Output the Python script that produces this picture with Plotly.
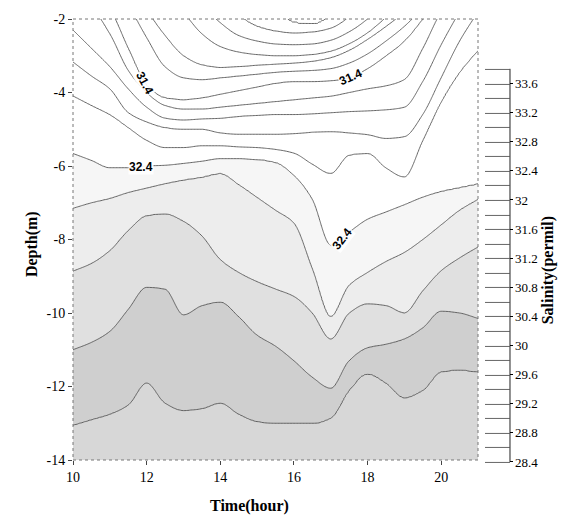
import numpy as np
import plotly.graph_objects as go

# ---------------- data ----------------
# sample times (hour)
times = [10, 10.5, 11, 11.5, 12, 12.5, 13, 13.5, 14, 14.5, 15, 15.5, 16,
         16.5, 17, 17.5, 18, 18.5, 19, 19.5, 20, 20.5, 21]

# salinity levels (permil) and the depth (m) of each isohaline at each time
# (values above -2 lie above the plotted window)
levels = [30.0, 30.2, 30.4, 30.6, 30.8, 31.0, 31.2, 31.4, 31.6, 31.8,
          32.0, 32.2, 32.4, 32.6, 32.8, 33.0, 33.2, 33.4]

d300 = [6] * 23
d302 = [4, 4, 4, 4, 4, 4, 3, 2.5, 1.5, 0.5, -0.8, -1.6, -2.1, -2.15, -1.9, -1.2, -0.5, 0.5, 1.5, 2.5, 3, 3.5, 4]
d304 = [3.5, 3.2, 2.8, 2.2, 1.5, 0.8, 0, -0.7, -1.4, -1.9, -2.2, -2.33, -2.38, -2.35, -2.25, -1.95, -1.5, -0.9, -0.3, 0.3, 1.0, 1.6, 2.2]
d306 = [3.0, 2.6, 2.1, 1.4, 0.6, -0.2, -0.9, -1.6, -2.1, -2.45, -2.6, -2.68, -2.7, -2.68, -2.58, -2.35, -2.0, -1.5, -0.9, -0.3, 0.4, 1.0, 1.6]
d308 = [2.4, 1.9, 1.3, 0.5, -0.3, -1.1, -1.8, -2.4, -2.75, -2.9, -2.97, -3.0, -3.0, -2.97, -2.88, -2.68, -2.38, -1.95, -1.4, -0.8, -0.1, 0.5, 1.0]
d310 = [1.0, 0.6, 0.0, -0.9, -1.75, -2.45, -3.0, -3.25, -3.32, -3.3, -3.26, -3.23, -3.2, -3.15, -3.05, -2.85, -2.55, -2.2, -1.8, -1.2, -0.6, 0.0, 0.5]
d312 = [0.5, 0.0, -0.8, -1.6, -2.5, -3.3, -3.6, -3.65, -3.6, -3.55, -3.5, -3.45, -3.42, -3.4, -3.35, -3.2, -2.95, -2.6, -2.2, -1.7, -1.1, -0.5, 0.1]
d314 = [-0.8, -1.3, -1.75, -2.8, -3.8, -4.15, -4.2, -4.15, -4.05, -3.95, -3.85, -3.75, -3.7, -3.7, -3.68, -3.6, -3.35, -3.0, -2.6, -2.0, -1.4, -0.8, -0.3]
d316 = [-1.5, -1.7, -2.4, -3.4, -4.0, -4.35, -4.45, -4.45, -4.4, -4.35, -4.3, -4.25, -4.2, -4.15, -4.1, -4.0, -3.9, -3.82, -3.65, -2.8, -1.8, -1.2, -0.6]
d318 = [-2.3, -2.8, -3.3, -3.9, -4.4, -4.7, -4.75, -4.72, -4.7, -4.65, -4.62, -4.6, -4.6, -4.58, -4.55, -4.52, -4.5, -4.47, -4.4, -3.7, -2.7, -1.8, -1.0]
d320 = [-3.17, -3.55, -3.9, -4.55, -4.8, -4.95, -5.0, -5.0, -5.1, -5.14, -5.14, -5.14, -5.12, -5.08, -5.06, -5.1, -5.15, -5.25, -5.2, -4.6, -3.6, -2.6, -1.8]
d322 = [-4.09, -4.35, -4.6, -4.95, -5.3, -5.5, -5.5, -5.45, -5.45, -5.48, -5.5, -5.55, -5.65, -5.95, -6.2, -5.7, -5.65, -6.05, -6.3, -5.3, -4.25, -3.45, -2.85]
d324 = [-5.66, -5.85, -6.05, -6.05, -6.0, -5.98, -5.93, -5.87, -5.8, -5.8, -5.82, -5.9, -6.25, -6.9, -8.15, -7.8, -7.45, -7.25, -7.05, -6.85, -6.7, -6.6, -6.5]
d326 = [-7.15, -7.0, -6.88, -6.72, -6.6, -6.48, -6.38, -6.3, -6.2, -6.5, -6.85, -7.2, -7.55, -8.8, -10.1, -9.25, -8.9, -8.6, -8.35, -8.0, -7.6, -7.2, -6.9]
d328 = [-8.86, -8.65, -8.3, -7.75, -7.35, -7.3, -7.5, -7.9, -8.55, -8.9, -9.15, -9.35, -9.55, -10.0, -10.7, -10.0, -9.75, -9.8, -10.0, -9.4, -8.85, -8.5, -8.2]
d330 = [-11.0, -10.8, -10.5, -9.9, -9.3, -9.35, -10.05, -9.8, -9.7, -10.1, -10.6, -10.9, -11.3, -11.75, -12.05, -11.3, -10.95, -10.85, -10.7, -10.4, -9.95, -10.0, -10.15]
d332 = [-13.05, -12.9, -12.75, -12.5, -11.9, -12.45, -12.65, -12.6, -12.45, -12.75, -12.95, -13.0, -13.0, -13.0, -12.85, -12.1, -11.65, -11.9, -12.3, -12.1, -11.6, -11.55, -11.6]
d334 = [-18] * 23

depth_rows = [d300, d302, d304, d306, d308, d310, d312, d314, d316, d318,
              d320, d322, d324, d326, d328, d330, d332, d334]

x_ticks = [10, 12, 14, 16, 18, 20]
y_ticks = [-14, -12, -10, -8, -6, -4, -2]
y_ticktext = ["-14", "-12", "-10", "-8", "-6", "-4", "-2"]
cb_ticks = [28.4, 28.8, 29.2, 29.6, 30.0, 30.4, 30.8, 31.2, 31.6, 32.0,
            32.4, 32.8, 33.2, 33.6]
cb_ticktext = ["28.4", "28.8", "29.2", "29.6", "30", "30.4", "30.8", "31.2",
               "31.6", "32", "32.4", "32.8", "33.2", "33.6"]

# labelled isohalines: (level, time of label, text angle)
labels = [(31.4, 11.95, 62), (31.4, 17.55, -24), (32.4, 11.85, 0), (32.4, 17.3, -52)]


# ---------------- build the gridded field ----------------
def pchip(xk, yk, xq):
    xk = np.asarray(xk, float)
    yk = np.asarray(yk, float)
    h = np.diff(xk)
    d = np.diff(yk) / h
    n = len(xk)
    m = np.zeros(n)
    m[0], m[-1] = d[0], d[-1]
    for i in range(1, n - 1):
        if d[i - 1] * d[i] <= 0:
            m[i] = 0.0
        else:
            w1 = 2 * h[i] + h[i - 1]
            w2 = h[i] + 2 * h[i - 1]
            m[i] = (w1 + w2) / (w1 / d[i - 1] + w2 / d[i])
    idx = np.clip(np.searchsorted(xk, xq) - 1, 0, n - 2)
    t = (xq - xk[idx]) / h[idx]
    h00 = 2 * t**3 - 3 * t**2 + 1
    h10 = t**3 - 2 * t**2 + t
    h01 = -2 * t**3 + 3 * t**2
    h11 = t**3 - t**2
    return (h00 * yk[idx] + h10 * h[idx] * m[idx] + h01 * yk[idx + 1]
            + h11 * h[idx] * m[idx + 1])


xf = np.linspace(10, 21, 276)
yf = np.linspace(-14, -2, 301)
D = np.array([pchip(times, row, xf) for row in depth_rows])
lev = np.array(levels)
Z = np.empty((len(yf), len(xf)))
for j in range(len(xf)):
    col = D[:, j].copy()
    for k in range(1, len(col)):
        if col[k] > col[k - 1] - 1e-3:
            col[k] = col[k - 1] - 1e-3
    Z[:, j] = np.interp(yf, col[::-1], lev[::-1])

# step grey scale (fills between isohalines)
c_lo, c_hi = 28.3, 33.9
bounds = [32.35, 32.55, 32.75, 32.95, 33.15]
cols = ["#ffffff", "#f6f6f6", "#ededed", "#e0e0e0", "#cfcfcf", "#d7d7d7"]
scale = []
prev = 0.0
for b, c in zip(bounds, cols[:-1]):
    s = (b - c_lo) / (c_hi - c_lo)
    scale.append([prev, c])
    scale.append([s, c])
    prev = s
scale.append([prev, cols[-1]])
scale.append([1.0, cols[-1]])

serif = "Liberation Serif"
cont = dict(start=28.4, end=33.8, size=0.2, showlabels=False)

fig = go.Figure()
# grey fills between isohalines
fig.add_trace(go.Contour(
    x=xf, y=yf, z=Z, autocontour=False,
    contours=dict(cont, coloring="fill"),
    colorscale=scale, showscale=False,
    line=dict(width=0, smoothing=1.0),
    hoverinfo="skip",
))
# isohaline lines (+ ladder-style colour bar)
fig.add_trace(go.Contour(
    x=xf, y=yf, z=Z, autocontour=False,
    contours=dict(cont, coloring="lines"),
    colorscale=[[0, "#555555"], [1, "#555555"]],
    line=dict(width=0.9, smoothing=1.0),
    colorbar=dict(
        x=1.017, xanchor="left", xpad=0,
        y=-0.0045, yanchor="bottom", len=0.8916, lenmode="fraction", ypad=0,
        thickness=25, outlinewidth=0,
        tickmode="array", tickvals=cb_ticks, ticktext=cb_ticktext,
        ticks="outside", ticklen=3, tickcolor="#000",
        tickfont=dict(family=serif, size=13, color="#000"),
    ),
    hoverinfo="skip",
))

annotations = []
for lv, t, ang in labels:
    k = levels.index(lv)
    yv = float(pchip(times, depth_rows[k], np.array([t]))[0])
    annotations.append(dict(
        x=t, y=yv, xref="x", yref="y", text="<b>%.1f</b>" % lv,
        showarrow=False, textangle=ang, bgcolor="rgba(255,255,255,0.9)",
        borderpad=0, font=dict(family="Liberation Sans", size=12, color="#000")))

annotations += [
    dict(x=0.437, y=-0.105, xref="paper", yref="paper", yanchor="middle",
         text="<b>Time(hour)</b>",
         showarrow=False, font=dict(family=serif, size=16, color="#000")),
    dict(x=-0.128, y=0.49, xref="paper", yref="paper", text="<b>Depth(m)</b>",
         showarrow=False, textangle=-90, font=dict(family=serif, size=16, color="#000")),
    dict(x=1.2, y=0.43, xref="paper", yref="paper", text="<b>Salinity(permil)</b>",
         showarrow=False, textangle=-90, font=dict(family=serif, size=16, color="#000")),
]

fig.update_layout(
    width=573, height=520,
    margin=dict(l=73, r=95, t=17, b=60),
    paper_bgcolor="white", plot_bgcolor="white",
    showlegend=False,
    annotations=annotations,
    shapes=[
        dict(type="rect", xref="paper", yref="paper", x0=0, y0=0, x1=1, y1=1,
             line=dict(color="#777777", width=1, dash="dot")),
        dict(type="line", xref="paper", yref="paper", x0=1.079, x1=1.079,
             y0=-0.0045, y1=0.887, line=dict(color="#222222", width=1)),
    ],
    xaxis=dict(range=[10, 21], tickvals=x_ticks, ticks="outside", ticklen=4,
               tickcolor="#444", showgrid=False, zeroline=False, showline=False,
               tickfont=dict(family=serif, size=14, color="#000")),
    yaxis=dict(range=[-14, -2], tickvals=y_ticks, ticktext=y_ticktext,
               ticks="outside", ticklen=4, tickcolor="#444", showgrid=False,
               zeroline=False, showline=False,
               tickfont=dict(family=serif, size=14, color="#000")),
)

fig.write_html("out.html")
